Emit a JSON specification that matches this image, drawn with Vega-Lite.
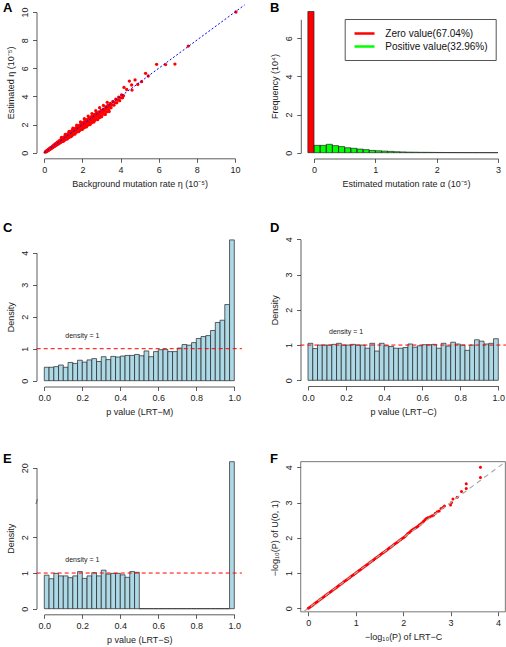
{
  "$schema": "https://vega.github.io/schema/vega-lite/v6.json",
  "padding": 0,
  "background": "white",
  "bounds": "flush",
  "spacing": 0,
  "columns": 2,
  "config": {
    "view": {"stroke": null},
    "font": "Liberation Sans",
    "axis": {"domainColor": "#333", "tickColor": "#333", "domainWidth": 0.8, "tickWidth": 0.8, "tickSize": 4, "labelFont": "Liberation Sans", "labelFontSize": 9, "labelColor": "#222", "labelPadding": 3, "titleFont": "Liberation Sans", "titleFontSize": 9, "titleFontWeight": "normal", "titleColor": "#222", "titlePadding": 5, "grid": false, "labelFlush": false, "labelOverlap": false},
    "axisY": {"labelAngle": -90, "labelAlign": "center", "labelBaseline": "bottom"}
  },
  "datasets": {
    "scatterA": [
      {"x":0.05,"y":0.04},{"x":0.08,"y":0.09},{"x":0.1,"y":0.07},{"x":0.12,"y":0.13},{"x":0.14,"y":0.1},{"x":0.16,"y":0.17},{"x":0.18,"y":0.14},{"x":0.2,"y":0.21},{"x":0.22,"y":0.17},{"x":0.24,"y":0.26},{"x":0.26,"y":0.21},{"x":0.28,"y":0.3},{"x":0.3,"y":0.25},{"x":0.32,"y":0.34},{"x":0.34,"y":0.28},{"x":0.36,"y":0.38},{"x":0.38,"y":0.32},{"x":0.4,"y":0.42},{"x":0.42,"y":0.35},{"x":0.44,"y":0.47},{"x":0.46,"y":0.39},{"x":0.48,"y":0.5},{"x":0.5,"y":0.43},{"x":0.52,"y":0.56},{"x":0.54,"y":0.46},{"x":0.56,"y":0.6},{"x":0.58,"y":0.5},{"x":0.6,"y":0.64},{"x":0.62,"y":0.54},{"x":0.64,"y":0.68},{"x":0.66,"y":0.56},{"x":0.68,"y":0.73},{"x":0.7,"y":0.6},{"x":0.72,"y":0.77},{"x":0.74,"y":0.63},{"x":0.76,"y":0.8},{"x":0.78,"y":0.67},{"x":0.8,"y":0.85},{"x":0.82,"y":0.7},{"x":0.84,"y":0.9},{"x":0.86,"y":0.74},{"x":0.88,"y":0.93},{"x":0.9,"y":0.77},{"x":0.92,"y":0.98},{"x":0.94,"y":0.8},{"x":0.96,"y":1.02},{"x":0.98,"y":0.84},{"x":1.0,"y":1.07},{"x":1.02,"y":0.87},{"x":1.04,"y":1.1},{"x":1.06,"y":0.9},{"x":1.08,"y":1.16},{"x":1.1,"y":0.94},{"x":1.12,"y":1.2},{"x":1.14,"y":0.97},{"x":1.16,"y":1.25},{"x":1.18,"y":1.0},{"x":1.2,"y":1.28},{"x":1.22,"y":1.04},{"x":1.24,"y":1.33},{"x":1.26,"y":1.07},{"x":1.28,"y":1.37},{"x":1.3,"y":1.1},{"x":1.32,"y":1.41},{"x":1.34,"y":1.14},{"x":1.36,"y":1.46},{"x":1.38,"y":1.17},{"x":1.4,"y":1.5},{"x":1.42,"y":1.2},{"x":1.44,"y":1.54},{"x":1.46,"y":1.24},{"x":1.48,"y":1.58},{"x":1.5,"y":1.27},
      {"x":0.1,"y":0.1},{"x":0.2,"y":0.19},{"x":0.3,"y":0.29},{"x":0.4,"y":0.38},{"x":0.5,"y":0.49},{"x":0.6,"y":0.58},{"x":0.7,"y":0.68},{"x":0.8,"y":0.77},{"x":0.9,"y":0.87},{"x":1.0,"y":0.97},{"x":1.1,"y":1.06},{"x":1.2,"y":1.15},{"x":1.3,"y":1.25},{"x":1.4,"y":1.34},{"x":1.5,"y":1.43},{"x":0.15,"y":0.14},{"x":0.25,"y":0.24},{"x":0.35,"y":0.33},{"x":0.45,"y":0.43},{"x":0.55,"y":0.53},{"x":0.65,"y":0.62},{"x":0.75,"y":0.72},{"x":0.85,"y":0.82},{"x":0.95,"y":0.92},{"x":1.05,"y":1.01},{"x":1.15,"y":1.1},{"x":1.25,"y":1.2},{"x":1.35,"y":1.3},{"x":1.45,"y":1.39},
      {"x":1.52,"y":1.62},{"x":1.54,"y":1.36},{"x":1.56,"y":1.5},{"x":1.58,"y":1.68},{"x":1.6,"y":1.4},{"x":1.62,"y":1.55},{"x":1.64,"y":1.74},{"x":1.66,"y":1.45},{"x":1.68,"y":1.6},{"x":1.7,"y":1.8},{"x":1.72,"y":1.49},{"x":1.74,"y":1.66},{"x":1.76,"y":1.86},{"x":1.78,"y":1.54},{"x":1.8,"y":1.71},{"x":1.82,"y":1.92},{"x":1.84,"y":1.58},{"x":1.86,"y":1.76},{"x":1.88,"y":1.98},{"x":1.9,"y":1.63},{"x":1.92,"y":1.82},{"x":1.94,"y":2.05},{"x":1.96,"y":1.68},{"x":1.98,"y":1.87},{"x":2.0,"y":2.12},{"x":2.03,"y":1.73},{"x":2.06,"y":1.93},{"x":2.09,"y":2.2},{"x":2.12,"y":1.8},{"x":2.15,"y":2.0},{"x":2.18,"y":2.3},{"x":2.21,"y":1.88},{"x":2.24,"y":2.08},{"x":2.27,"y":2.38},{"x":2.3,"y":1.96},{"x":2.33,"y":2.15},{"x":2.36,"y":2.45},{"x":2.39,"y":2.05},{"x":2.42,"y":2.25},{"x":2.45,"y":2.55},{"x":2.48,"y":2.13},{"x":2.51,"y":2.33},{"x":2.54,"y":2.62},{"x":2.57,"y":2.22},{"x":2.6,"y":2.42},{"x":2.63,"y":2.72},{"x":2.66,"y":2.3},{"x":2.7,"y":2.5},{"x":2.74,"y":2.82},{"x":2.78,"y":2.4},{"x":2.82,"y":2.6},{"x":2.86,"y":2.9},{"x":2.9,"y":2.5},{"x":2.94,"y":2.7},{"x":2.98,"y":3.0},{"x":3.02,"y":2.62},{"x":3.06,"y":2.82},{"x":3.1,"y":3.1},{"x":3.14,"y":2.75},{"x":3.18,"y":2.95},{"x":3.22,"y":3.25},{"x":3.26,"y":2.9},{"x":3.3,"y":3.1},{"x":3.34,"y":3.38},{"x":3.38,"y":3.05},{"x":3.42,"y":3.25},{"x":3.46,"y":3.5},{"x":3.5,"y":3.2},{"x":3.55,"y":3.4},{"x":3.6,"y":3.65},{"x":3.65,"y":3.38},{"x":3.7,"y":3.55},{"x":3.75,"y":3.8},{"x":3.8,"y":3.55},{"x":3.85,"y":3.75},{"x":3.9,"y":3.95},{"x":3.95,"y":3.7},{"x":4.0,"y":3.9},{"x":4.05,"y":4.1},{"x":4.1,"y":3.9},{"x":4.15,"y":4.05},
      {"x":1.6,"y":1.57},{"x":1.7,"y":1.65},{"x":1.8,"y":1.78},{"x":1.9,"y":1.85},{"x":2.0,"y":1.95},{"x":2.1,"y":2.05},{"x":2.2,"y":2.14},{"x":2.3,"y":2.22},{"x":2.4,"y":2.33},{"x":2.5,"y":2.42},{"x":2.6,"y":2.55},{"x":2.7,"y":2.62},{"x":2.8,"y":2.75},{"x":2.9,"y":2.8},{"x":3.0,"y":2.9},{"x":3.1,"y":3.0},{"x":3.2,"y":3.1},{"x":3.3,"y":3.22},{"x":3.4,"y":3.35},{"x":3.5,"y":3.45},
      {"x":0.9,"y":1.08},{"x":1.1,"y":1.3},{"x":1.3,"y":1.52},{"x":1.5,"y":1.74},{"x":1.7,"y":1.95},{"x":1.9,"y":2.18},{"x":2.1,"y":2.42},{"x":2.3,"y":2.6},{"x":2.5,"y":2.78},{"x":2.7,"y":2.98},{"x":2.9,"y":3.2},{"x":3.1,"y":3.36},{"x":3.3,"y":3.58},
      {"x":1.0,"y":0.82},{"x":1.2,"y":0.98},{"x":1.4,"y":1.14},{"x":1.6,"y":1.32},{"x":1.8,"y":1.5},{"x":2.0,"y":1.66},{"x":2.2,"y":1.83},{"x":2.4,"y":2.0},{"x":2.6,"y":2.18},{"x":2.8,"y":2.36},{"x":3.0,"y":2.55},{"x":3.2,"y":2.72},{"x":3.4,"y":2.92},
      {"x":4.18,"y":4.64},{"x":4.32,"y":4.5},{"x":4.46,"y":5.09},{"x":4.58,"y":4.81},{"x":4.76,"y":5.17},{"x":5.31,"y":5.64},{"x":5.45,"y":5.45},{"x":5.89,"y":6.28},{"x":6.36,"y":6.26},{"x":6.85,"y":6.3},{"x":7.55,"y":7.58},{"x":10.05,"y":10.0},{"x":4.6,"y":4.45},{"x":4.9,"y":4.85},{"x":5.1,"y":5.05}
    ],
    "histB": [
      {"x0":-0.1,"x1":0,"f":7.41,"g":"Zero value(67.04%)"},
      {"x0":0.0,"x1":0.1,"f":0.385,"g":"Positive value(32.96%)"},{"x0":0.1,"x1":0.2,"f":0.385,"g":"Positive value(32.96%)"},{"x0":0.2,"x1":0.3,"f":0.44,"g":"Positive value(32.96%)"},{"x0":0.3,"x1":0.4,"f":0.37,"g":"Positive value(32.96%)"},{"x0":0.4,"x1":0.5,"f":0.32,"g":"Positive value(32.96%)"},{"x0":0.5,"x1":0.6,"f":0.26,"g":"Positive value(32.96%)"},{"x0":0.6,"x1":0.7,"f":0.23,"g":"Positive value(32.96%)"},{"x0":0.7,"x1":0.8,"f":0.19,"g":"Positive value(32.96%)"},{"x0":0.8,"x1":0.9,"f":0.16,"g":"Positive value(32.96%)"},{"x0":0.9,"x1":1.0,"f":0.12,"g":"Positive value(32.96%)"},{"x0":1.0,"x1":1.1,"f":0.1,"g":"Positive value(32.96%)"},{"x0":1.1,"x1":1.2,"f":0.085,"g":"Positive value(32.96%)"},{"x0":1.2,"x1":1.3,"f":0.07,"g":"Positive value(32.96%)"},{"x0":1.3,"x1":1.4,"f":0.05,"g":"Positive value(32.96%)"},{"x0":1.4,"x1":1.5,"f":0.04,"g":"Positive value(32.96%)"},{"x0":1.5,"x1":1.6,"f":0.03,"g":"Positive value(32.96%)"},{"x0":1.6,"x1":1.7,"f":0.025,"g":"Positive value(32.96%)"},{"x0":1.7,"x1":1.8,"f":0.02,"g":"Positive value(32.96%)"},{"x0":1.8,"x1":1.9,"f":0.018,"g":"Positive value(32.96%)"},{"x0":1.9,"x1":2.0,"f":0.015,"g":"Positive value(32.96%)"},{"x0":2.0,"x1":2.1,"f":0.012,"g":"Positive value(32.96%)"},{"x0":2.1,"x1":2.2,"f":0.01,"g":"Positive value(32.96%)"},{"x0":2.2,"x1":2.3,"f":0.009,"g":"Positive value(32.96%)"},{"x0":2.3,"x1":2.4,"f":0.008,"g":"Positive value(32.96%)"},{"x0":2.4,"x1":2.5,"f":0.007,"g":"Positive value(32.96%)"},{"x0":2.5,"x1":2.6,"f":0.006,"g":"Positive value(32.96%)"},{"x0":2.6,"x1":2.7,"f":0.005,"g":"Positive value(32.96%)"},{"x0":2.7,"x1":2.8,"f":0.005,"g":"Positive value(32.96%)"},{"x0":2.8,"x1":2.9,"f":0.004,"g":"Positive value(32.96%)"},{"x0":2.9,"x1":3.0,"f":0.004,"g":"Positive value(32.96%)"}
    ],
    "histC": [
      {"x0":0.0,"x1":0.025,"d":0.42},{"x0":0.025,"x1":0.05,"d":0.42},{"x0":0.05,"x1":0.075,"d":0.44},{"x0":0.075,"x1":0.1,"d":0.49},{"x0":0.1,"x1":0.125,"d":0.42},{"x0":0.125,"x1":0.15,"d":0.57},{"x0":0.15,"x1":0.175,"d":0.54},{"x0":0.175,"x1":0.2,"d":0.64},{"x0":0.2,"x1":0.225,"d":0.58},{"x0":0.225,"x1":0.25,"d":0.65},{"x0":0.25,"x1":0.275,"d":0.69},{"x0":0.275,"x1":0.3,"d":0.6},{"x0":0.3,"x1":0.325,"d":0.75},{"x0":0.325,"x1":0.35,"d":0.66},{"x0":0.35,"x1":0.375,"d":0.76},{"x0":0.375,"x1":0.4,"d":0.74},{"x0":0.4,"x1":0.425,"d":0.77},{"x0":0.425,"x1":0.45,"d":0.79},{"x0":0.45,"x1":0.475,"d":0.79},{"x0":0.475,"x1":0.5,"d":0.82},{"x0":0.5,"x1":0.525,"d":0.78},{"x0":0.525,"x1":0.55,"d":0.93},{"x0":0.55,"x1":0.575,"d":0.75},{"x0":0.575,"x1":0.6,"d":0.91},{"x0":0.6,"x1":0.625,"d":0.97},{"x0":0.625,"x1":0.65,"d":0.98},{"x0":0.65,"x1":0.675,"d":0.91},{"x0":0.675,"x1":0.7,"d":0.91},{"x0":0.7,"x1":0.725,"d":1.02},{"x0":0.725,"x1":0.75,"d":1.13},{"x0":0.75,"x1":0.775,"d":1.11},{"x0":0.775,"x1":0.8,"d":1.19},{"x0":0.8,"x1":0.825,"d":1.32},{"x0":0.825,"x1":0.85,"d":1.38},{"x0":0.85,"x1":0.875,"d":1.41},{"x0":0.875,"x1":0.9,"d":1.57},{"x0":0.9,"x1":0.925,"d":1.82},{"x0":0.925,"x1":0.95,"d":1.89},{"x0":0.95,"x1":0.975,"d":2.38},{"x0":0.975,"x1":1.0,"d":4.4}
    ],
    "histD": [
      {"x0":0.0,"x1":0.025,"d":1.05},{"x0":0.025,"x1":0.05,"d":0.9},{"x0":0.05,"x1":0.075,"d":1.0},{"x0":0.075,"x1":0.1,"d":1.0},{"x0":0.1,"x1":0.125,"d":1.0},{"x0":0.125,"x1":0.15,"d":1.02},{"x0":0.15,"x1":0.175,"d":1.05},{"x0":0.175,"x1":0.2,"d":1.0},{"x0":0.2,"x1":0.225,"d":1.0},{"x0":0.225,"x1":0.25,"d":1.02},{"x0":0.25,"x1":0.275,"d":1.0},{"x0":0.275,"x1":0.3,"d":1.0},{"x0":0.3,"x1":0.325,"d":0.91},{"x0":0.325,"x1":0.35,"d":1.05},{"x0":0.35,"x1":0.375,"d":0.83},{"x0":0.375,"x1":0.4,"d":1.05},{"x0":0.4,"x1":0.425,"d":0.98},{"x0":0.425,"x1":0.45,"d":0.96},{"x0":0.45,"x1":0.475,"d":0.91},{"x0":0.475,"x1":0.5,"d":0.91},{"x0":0.5,"x1":0.525,"d":0.93},{"x0":0.525,"x1":0.55,"d":1.03},{"x0":0.55,"x1":0.575,"d":0.94},{"x0":0.575,"x1":0.6,"d":0.98},{"x0":0.6,"x1":0.625,"d":1.01},{"x0":0.625,"x1":0.65,"d":1.01},{"x0":0.65,"x1":0.675,"d":1.02},{"x0":0.675,"x1":0.7,"d":0.91},{"x0":0.7,"x1":0.725,"d":1.05},{"x0":0.725,"x1":0.75,"d":0.97},{"x0":0.75,"x1":0.775,"d":1.08},{"x0":0.775,"x1":0.8,"d":1.03},{"x0":0.8,"x1":0.825,"d":1.0},{"x0":0.825,"x1":0.85,"d":0.85},{"x0":0.85,"x1":0.875,"d":1.0},{"x0":0.875,"x1":0.9,"d":1.15},{"x0":0.9,"x1":0.925,"d":1.11},{"x0":0.925,"x1":0.95,"d":1.03},{"x0":0.95,"x1":0.975,"d":1.05},{"x0":0.975,"x1":1.0,"d":1.18}
    ],
    "histE": [
      {"x0":0.0,"x1":0.025,"d":0.94},{"x0":0.025,"x1":0.05,"d":0.84},{"x0":0.05,"x1":0.075,"d":0.99},{"x0":0.075,"x1":0.1,"d":0.92},{"x0":0.1,"x1":0.125,"d":0.92},{"x0":0.125,"x1":0.15,"d":0.87},{"x0":0.15,"x1":0.175,"d":0.92},{"x0":0.175,"x1":0.2,"d":1.04},{"x0":0.2,"x1":0.225,"d":0.85},{"x0":0.225,"x1":0.25,"d":0.92},{"x0":0.25,"x1":0.275,"d":1.01},{"x0":0.275,"x1":0.3,"d":0.92},{"x0":0.3,"x1":0.325,"d":1.08},{"x0":0.325,"x1":0.35,"d":0.97},{"x0":0.35,"x1":0.375,"d":0.99},{"x0":0.375,"x1":0.4,"d":0.99},{"x0":0.4,"x1":0.425,"d":0.95},{"x0":0.425,"x1":0.45,"d":0.88},{"x0":0.45,"x1":0.475,"d":1.04},{"x0":0.475,"x1":0.5,"d":1.02},
      {"x0":0.5,"x1":0.525,"d":0},{"x0":0.525,"x1":0.55,"d":0},{"x0":0.55,"x1":0.575,"d":0},{"x0":0.575,"x1":0.6,"d":0},{"x0":0.6,"x1":0.625,"d":0},{"x0":0.625,"x1":0.65,"d":0},{"x0":0.65,"x1":0.675,"d":0},{"x0":0.675,"x1":0.7,"d":0},{"x0":0.7,"x1":0.725,"d":0},{"x0":0.725,"x1":0.75,"d":0},{"x0":0.75,"x1":0.775,"d":0},{"x0":0.775,"x1":0.8,"d":0},{"x0":0.8,"x1":0.825,"d":0},{"x0":0.825,"x1":0.85,"d":0},{"x0":0.85,"x1":0.875,"d":0},{"x0":0.875,"x1":0.9,"d":0},{"x0":0.9,"x1":0.925,"d":0},{"x0":0.925,"x1":0.95,"d":0},{"x0":0.95,"x1":0.975,"d":0},
      {"x0":0.975,"x1":1.0,"d":21}
    ],
    "qqF": [
      {"x":0.0,"y":0.0},{"x":0.03,"y":0.03},{"x":0.06,"y":0.06},{"x":0.09,"y":0.09},{"x":0.12,"y":0.12},{"x":0.15,"y":0.15},{"x":0.18,"y":0.18},{"x":0.21,"y":0.21},{"x":0.24,"y":0.24},{"x":0.27,"y":0.27},{"x":0.3,"y":0.3},{"x":0.33,"y":0.33},{"x":0.36,"y":0.36},{"x":0.39,"y":0.39},{"x":0.42,"y":0.42},{"x":0.45,"y":0.45},{"x":0.48,"y":0.48},{"x":0.51,"y":0.51},{"x":0.54,"y":0.54},{"x":0.57,"y":0.57},{"x":0.6,"y":0.6},{"x":0.63,"y":0.63},{"x":0.66,"y":0.66},{"x":0.69,"y":0.69},{"x":0.72,"y":0.72},{"x":0.75,"y":0.75},{"x":0.78,"y":0.78},{"x":0.81,"y":0.81},{"x":0.84,"y":0.84},{"x":0.87,"y":0.87},{"x":0.9,"y":0.9},{"x":0.93,"y":0.93},{"x":0.96,"y":0.96},{"x":0.99,"y":0.99},{"x":1.02,"y":1.02},{"x":1.05,"y":1.05},{"x":1.08,"y":1.08},{"x":1.11,"y":1.11},{"x":1.14,"y":1.14},{"x":1.17,"y":1.17},{"x":1.2,"y":1.2},{"x":1.23,"y":1.23},{"x":1.26,"y":1.26},{"x":1.29,"y":1.29},{"x":1.32,"y":1.32},{"x":1.35,"y":1.35},{"x":1.38,"y":1.38},{"x":1.41,"y":1.41},{"x":1.44,"y":1.44},{"x":1.47,"y":1.47},{"x":1.5,"y":1.5},{"x":1.53,"y":1.53},{"x":1.56,"y":1.56},{"x":1.59,"y":1.59},{"x":1.62,"y":1.62},{"x":1.65,"y":1.65},{"x":1.68,"y":1.68},{"x":1.71,"y":1.71},{"x":1.74,"y":1.74},{"x":1.77,"y":1.77},{"x":1.8,"y":1.8},{"x":1.83,"y":1.83},{"x":1.86,"y":1.86},{"x":1.89,"y":1.89},{"x":1.92,"y":1.92},{"x":1.95,"y":1.95},{"x":1.98,"y":1.98},{"x":2.01,"y":2.01},{"x":2.04,"y":2.04},{"x":2.07,"y":2.08},{"x":2.1,"y":2.12},{"x":2.13,"y":2.15},{"x":2.16,"y":2.19},{"x":2.19,"y":2.22},{"x":2.22,"y":2.25},{"x":2.25,"y":2.27},{"x":2.28,"y":2.3},{"x":2.31,"y":2.33},{"x":2.34,"y":2.36},{"x":2.37,"y":2.39},{"x":2.4,"y":2.43},{"x":2.43,"y":2.47},{"x":2.46,"y":2.51},{"x":2.49,"y":2.55},{"x":2.52,"y":2.57},{"x":2.56,"y":2.59},{"x":2.6,"y":2.62},{"x":2.64,"y":2.64},{"x":2.68,"y":2.7},{"x":2.72,"y":2.74},{"x":2.76,"y":2.76},{"x":2.8,"y":2.83},{"x":2.84,"y":2.86},{"x":2.87,"y":2.9},{"x":3.0,"y":2.93},{"x":3.02,"y":3.0},{"x":3.05,"y":3.1},{"x":3.14,"y":3.15},{"x":3.23,"y":3.31},{"x":3.33,"y":3.4},{"x":3.33,"y":3.53},{"x":3.63,"y":3.71},{"x":3.63,"y":4.0}
    ]
  },
  "concat": [
    {
      "width": 253, "height": 210,
      "layer": [
        {
          "data": {"name": "scatterA"},
          "mark": {"type": "point", "filled": true, "size": 11, "color": "#FF0000", "opacity": 1, "strokeWidth": 0},
          "encoding": {
            "x": {"field": "x", "type": "quantitative", "scale": {"domain": [0, 10], "range": [44.3, 235], "nice": false, "zero": false}, "axis": {"values": [0, 2, 4, 6, 8, 10], "format": "d", "offset": -51.7, "title": "Background mutation rate η (10⁻⁵)"}},
            "y": {"field": "y", "type": "quantitative", "scale": {"domain": [0, 10], "range": [152.7, 12], "nice": false, "zero": false}, "axis": {"values": [0, 2, 4, 6, 8, 10], "format": "d", "offset": -36.5, "title": "Estimated η (10⁻⁵)"}}
          }
        },
        {
          "data": {"values": [{}]},
          "mark": {"type": "rule", "color": "#0000FF", "strokeDash": [2, 2], "strokeWidth": 1},
          "encoding": {"x": {"datum": 0}, "y": {"datum": 0}, "x2": {"datum": 10.5}, "y2": {"datum": 10.5}}
        },
        {
          "data": {"values": [{}]},
          "mark": {"type": "text", "text": "A", "fontSize": 13, "fontWeight": "bold", "color": "#000", "align": "left", "baseline": "alphabetic"},
          "encoding": {"x": {"datum": -2.166}, "y": {"datum": 10.0}}
        }
      ]
    },
    {
      "width": 253, "height": 210,
      "layer": [
        {
          "data": {"name": "histB"},
          "mark": {"type": "bar"},
          "encoding": {
            "x": {"field": "x0", "type": "quantitative", "scale": {"domain": [0, 3], "range": [61, 245], "nice": false, "zero": false}, "axis": {"values": [0, 1, 2, 3], "format": "d", "offset": -51.5, "title": "Estimated mutation rate α (10⁻⁵)"}},
            "x2": {"field": "x1"},
            "y": {"field": "f", "type": "quantitative", "scale": {"domain": [0, 7], "range": [152.7, 19.3], "nice": false, "zero": false}, "axis": {"values": [0, 1, 2, 3, 4, 5, 6, 7], "format": "d", "offset": -47.8, "title": "Frequency (10⁴)"}},
            "y2": {"datum": 0},
            "color": {"field": "g", "type": "nominal", "scale": {"domain": ["Zero value(67.04%)", "Positive value(32.96%)"], "range": ["#FF0000", "#00FF00"]},
              "legend": {"orient": "none", "legendX": 344.7, "legendY": 19, "title": null, "strokeColor": "#555", "fillColor": "white", "padding": 8, "symbolType": "M-2,0H2", "symbolSize": 100, "symbolOffset": 5.3, "symbolStrokeWidth": 2.5, "labelFontSize": 10, "labelFont": "Liberation Sans", "labelColor": "#111", "labelOffset": 14.3, "rowPadding": 1,
                "encode": {"symbols": {"update": {"stroke": {"signal": "scale('color', datum.value)"}, "strokeWidth": {"value": 2.5}, "fill": {"value": "transparent"}}}}}}
          }
        },
        {
          "data": {"name": "histB"},
          "mark": {"type": "bar", "fill": null, "stroke": "#222", "strokeWidth": 0.7},
          "encoding": {
            "x": {"field": "x0", "type": "quantitative"},
            "x2": {"field": "x1"},
            "y": {"field": "f", "type": "quantitative"},
            "y2": {"datum": 0}
          }
        },
        {
          "data": {"values": [{}]},
          "mark": {"type": "text", "text": "B", "fontSize": 13, "fontWeight": "bold", "color": "#000", "align": "left", "baseline": "alphabetic"},
          "encoding": {"x": {"datum": -0.717}, "y": {"datum": 7.38}}
        }
      ]
    },
    {
      "width": 253, "height": 210,
      "layer": [
        {
          "data": {"name": "histC"},
          "mark": {"type": "bar", "fill": "#ADD8E6", "stroke": "#222", "strokeWidth": 0.7},
          "encoding": {
            "x": {"field": "x0", "type": "quantitative", "scale": {"domain": [0, 1], "range": [44.3, 234.3], "nice": false, "zero": false}, "axis": {"values": [0, 0.2, 0.4, 0.6, 0.8, 1], "format": ".1f", "offset": -33.5, "title": "p value (LRT−M)"}},
            "x2": {"field": "x1"},
            "y": {"field": "d", "type": "quantitative", "scale": {"domain": [0, 4], "range": [170.7, 42.7], "nice": false, "zero": false}, "axis": {"values": [0, 1, 2, 3, 4], "format": "d", "offset": -36.5, "title": "Density"}},
            "y2": {"datum": 0}
          }
        },
        {
          "data": {"values": [{}]},
          "mark": {"type": "rule", "color": "#FF0000", "strokeDash": [4, 3], "strokeWidth": 1},
          "encoding": {"x": {"datum": -0.04}, "x2": {"datum": 1.04}, "y": {"datum": 1}}
        },
        {
          "data": {"values": [{}]},
          "mark": {"type": "text", "text": "density = 1", "fontSize": 7, "color": "#222", "align": "center", "baseline": "middle"},
          "encoding": {"x": {"datum": 0.2}, "y": {"datum": 1.4}}
        },
        {
          "data": {"values": [{}]},
          "mark": {"type": "text", "text": "C", "fontSize": 13, "fontWeight": "bold", "color": "#000", "align": "left", "baseline": "alphabetic"},
          "encoding": {"x": {"datum": -0.217}, "y": {"datum": 4.647}}
        }
      ]
    },
    {
      "width": 253, "height": 210,
      "layer": [
        {
          "data": {"name": "histD"},
          "mark": {"type": "bar", "fill": "#ADD8E6", "stroke": "#222", "strokeWidth": 0.7},
          "encoding": {
            "x": {"field": "x0", "type": "quantitative", "scale": {"domain": [0, 1], "range": [55, 245.3], "nice": false, "zero": false}, "axis": {"values": [0, 0.2, 0.4, 0.6, 0.8, 1], "format": ".1f", "offset": -34, "title": "p value (LRT−C)"}},
            "x2": {"field": "x1"},
            "y": {"field": "d", "type": "quantitative", "scale": {"domain": [0, 4], "range": [170.3, 29.3], "nice": false, "zero": false}, "axis": {"values": [0, 1, 2, 3, 4], "format": "d", "offset": -47.5, "title": "Density"}},
            "y2": {"datum": 0}
          }
        },
        {
          "data": {"values": [{}]},
          "mark": {"type": "rule", "color": "#FF0000", "strokeDash": [4, 3], "strokeWidth": 1},
          "encoding": {"x": {"datum": -0.04}, "x2": {"datum": 1.04}, "y": {"datum": 1}}
        },
        {
          "data": {"values": [{}]},
          "mark": {"type": "text", "text": "density = 1", "fontSize": 7, "color": "#222", "align": "center", "baseline": "middle"},
          "encoding": {"x": {"datum": 0.2}, "y": {"datum": 1.36}}
        },
        {
          "data": {"values": [{}]},
          "mark": {"type": "text", "text": "D", "fontSize": 13, "fontWeight": "bold", "color": "#000", "align": "left", "baseline": "alphabetic"},
          "encoding": {"x": {"datum": -0.2}, "y": {"datum": 4.207}}
        }
      ]
    },
    {
      "width": 253, "height": 227,
      "layer": [
        {
          "data": {"name": "histE"},
          "mark": {"type": "bar", "fill": "#ADD8E6", "stroke": "#222", "strokeWidth": 0.7},
          "encoding": {
            "x": {"field": "x0", "type": "quantitative", "scale": {"domain": [0, 1], "range": [44.3, 234.3], "nice": false, "zero": false}, "axis": {"values": [0, 0.2, 0.4, 0.6, 0.8, 1], "format": ".1f", "offset": -32.7, "title": "p value (LRT−S)"}},
            "x2": {"field": "x1"},
            "y": {"field": "d", "type": "quantitative", "scale": {"domain": [0, 3, 19.5, 20], "range": [188.7, 81.7, 50.7, 47.7], "nice": false, "zero": false}, "axis": {"values": [0, 1, 2, 20], "format": "d", "offset": -36.5, "title": "Density"}},
            "y2": {"datum": 0}
          }
        },
        {
          "data": {"values": [{}]},
          "mark": {"type": "rule", "color": "#FF0000", "strokeDash": [4, 3], "strokeWidth": 1},
          "encoding": {"x": {"datum": -0.04}, "x2": {"datum": 1.04}, "y": {"datum": 1}}
        },
        {
          "data": {"values": [{}]},
          "mark": {"type": "text", "text": "density = 1", "fontSize": 7, "color": "#222", "align": "center", "baseline": "middle"},
          "encoding": {"x": {"datum": 0.2}, "y": {"datum": 1.37}}
        },
        {
          "data": {"values": [{}]},
          "mark": {"type": "text", "text": "/", "fontSize": 8, "color": "#333", "align": "center", "baseline": "middle"},
          "encoding": {"x": {"datum": -0.041}, "y": {"datum": 3}}
        },
        {
          "data": {"values": [{}]},
          "mark": {"type": "text", "text": "E", "fontSize": 13, "fontWeight": "bold", "color": "#000", "align": "left", "baseline": "alphabetic"},
          "encoding": {"x": {"datum": -0.217}, "y": {"datum": 20.78}}
        }
      ]
    },
    {
      "width": 253, "height": 227,
      "layer": [
        {
          "data": {"values": [{}]},
          "mark": {"type": "rect", "fill": null, "stroke": "#555", "strokeWidth": 0.8},
          "encoding": {"x": {"datum": -0.16}, "x2": {"datum": 4.155}, "y": {"datum": -0.1}, "y2": {"datum": 4.16}}
        },
        {
          "data": {"name": "qqF"},
          "mark": {"type": "point", "filled": true, "size": 9, "color": "#FF0000", "opacity": 1, "strokeWidth": 0},
          "encoding": {
            "x": {"field": "x", "type": "quantitative", "scale": {"domain": [0, 4], "range": [55.3, 245], "nice": false, "zero": false}, "axis": {"values": [0, 1, 2, 3, 4], "format": "d", "offset": -35.3, "domain": false, "title": "−log₁₀(P) of LRT−C"}},
            "y": {"field": "y", "type": "quantitative", "scale": {"domain": [0, 4], "range": [188.3, 47.3], "nice": false, "zero": false}, "axis": {"values": [0, 1, 2, 3, 4], "format": "d", "offset": -47.7, "domain": false, "title": "−log₁₀(P) of U(0, 1)"}}
          }
        },
        {
          "data": {"values": [{}]},
          "mark": {"type": "rule", "color": "#AAAAAA", "strokeDash": [5, 4], "strokeWidth": 1.2},
          "encoding": {"x": {"datum": -0.1}, "y": {"datum": -0.1}, "x2": {"datum": 4.155}, "y2": {"datum": 4.155}}
        },
        {
          "data": {"values": [{}]},
          "mark": {"type": "text", "text": "F", "fontSize": 13, "fontWeight": "bold", "color": "#000", "align": "left", "baseline": "alphabetic"},
          "encoding": {"x": {"datum": -0.808}, "y": {"datum": 4.122}}
        }
      ]
    }
  ]
}
